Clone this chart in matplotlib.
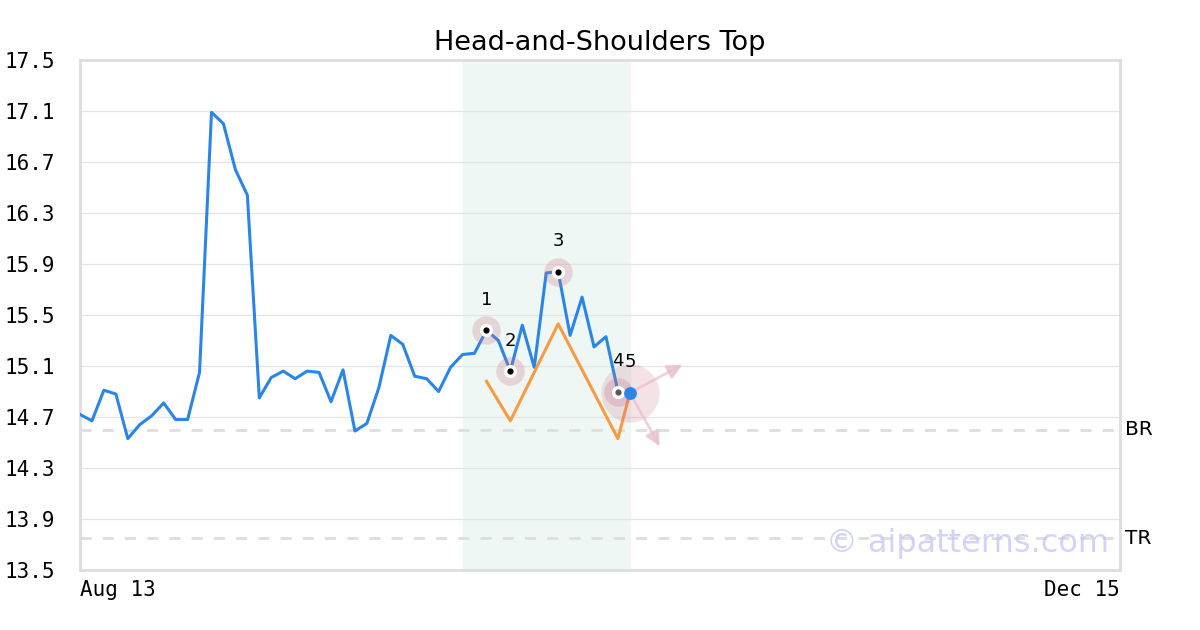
import matplotlib
matplotlib.use("Agg")
import matplotlib.pyplot as plt

# closing prices, one per trading day (index 0 = Aug 13)
prices = [14.72, 14.67, 14.91, 14.88, 14.53, 14.64, 14.71, 14.81, 14.68, 14.68,
          15.05, 17.09, 17.00, 16.64, 16.44, 14.85, 15.01, 15.06, 15.00, 15.06,
          15.05, 14.82, 15.07, 14.59, 14.65, 14.93, 15.34, 15.27, 15.02, 15.00,
          14.90, 15.09, 15.19, 15.20, 15.38, 15.30, 15.06, 15.42, 15.09, 15.83,
          15.84, 15.34, 15.64, 15.25, 15.33, 14.90, 14.89]

# pattern pivots
pivot_idx = [34, 36, 40, 45, 46]
pivot_labels = ["1", "2", "3", "4", "5"]

# orange guide line
guide_idx = [34, 36, 40, 45, 46]
guide_vals = [14.98, 14.67, 15.43, 14.53, 14.89]

# projection arrows from point 5
arrow_targets = [(50.4, 15.11), (48.5, 14.47)]

shade_span = (32, 46)
br_level = 14.60
tr_level = 13.75

x_ticks = [0, 87]
x_labels = ["Aug 13", "Dec 15"]
y_ticks = [13.5, 13.9, 14.3, 14.7, 15.1, 15.5, 15.9, 16.3, 16.7, 17.1, 17.5]

fig = plt.figure(figsize=(12, 6.3), dpi=100)
ax = fig.add_axes([80 / 1200, 1 - 570 / 630, 1040 / 1200, 510 / 630])

ax.set_xlim(0, 87)
ax.set_ylim(13.5, 17.5)

ax.axvspan(shade_span[0], shade_span[1], color="#eef7f3", zorder=0)
for yv in y_ticks:
    ax.axhline(yv, color="#e4e4e4", lw=0.9, zorder=1)
for lvl in (br_level, tr_level):
    ax.axhline(lvl, color="#dedede", lw=2, dashes=(4, 4), zorder=1)

xs = list(range(len(prices)))
ax.plot(xs, prices, color="#2b85e6", lw=2.2, zorder=3)
ax.plot(guide_idx, guide_vals, color="#f99a42", lw=2.2, zorder=3)

pink = "#c96f88"
for i, lab in zip(pivot_idx, pivot_labels):
    y = prices[i]
    if lab == "5":
        ax.scatter(i, y, s=1750, color=pink, alpha=0.2, lw=0, zorder=4)
        ax.scatter(i, y, s=85, color="#2b85e6", lw=0, zorder=6)
        for tx, ty in arrow_targets:
            ax.annotate("", xy=(tx, ty), xytext=(i, y),
                        arrowprops=dict(arrowstyle="-|>", color="#e7bfcb",
                                        lw=2, mutation_scale=22, alpha=0.7,
                                        shrinkA=0, shrinkB=0), zorder=5)
    else:
        ax.scatter(i, y, s=420, color=pink, alpha=0.25, lw=0, zorder=4)
        ax.scatter(i, y, s=90, color="white", lw=0, zorder=5)
        dot = "#5e5456" if lab == "4" else "black"
        ax.scatter(i, y, s=20, color=dot, lw=0, zorder=6)
    ax.annotate(lab, (i, y), xytext=(0, 22), textcoords="offset points",
                ha="center", va="center", fontsize=13, color="black", zorder=7)

ax.text(1.0 + 5 / 1040, br_level, "BR", transform=ax.get_yaxis_transform(),
        ha="left", va="center", fontsize=14.5)
ax.text(1.0 + 5 / 1040, tr_level, "TR", transform=ax.get_yaxis_transform(),
        ha="left", va="center", fontsize=14.5)

ax.text(0.99, 0.052, "© aipatterns.com", transform=ax.transAxes,
        ha="right", va="center", fontsize=23, color="#c8c8f8", alpha=0.8,
        zorder=8)

ax.set_yticks(y_ticks)
ax.set_yticklabels([f"{v:.1f}" for v in y_ticks], family="DejaVu Sans Mono",
                   fontsize=15)
ax.set_xticks(x_ticks)
ax.set_xticklabels(x_labels, family="DejaVu Sans Mono", fontsize=15)
xt = ax.get_xticklabels()
xt[0].set_ha("left")
xt[1].set_ha("right")
ax.tick_params(axis="both", length=0)
ax.tick_params(axis="y", pad=18)
ax.tick_params(axis="x", pad=7)

for s in ax.spines.values():
    s.set_color("#dddddd")
    s.set_linewidth(2)

ax.set_title("Head-and-Shoulders Top", fontsize=19.5, pad=7)

fig.savefig("out.png", dpi=100)
